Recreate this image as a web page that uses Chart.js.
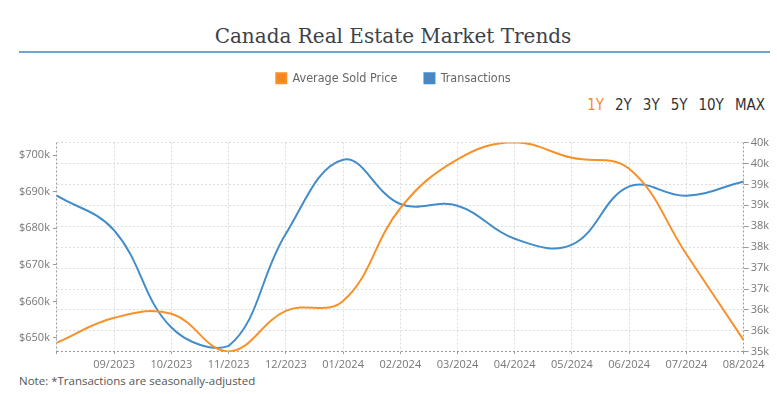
<!DOCTYPE html>
<html>
<head>
<meta charset="utf-8">
<script src="https://cdn.jsdelivr.net/npm/chart.js@4.4.0/dist/chart.umd.min.js"></script>
<style>
  html, body { margin: 0; padding: 0; background: #fff; }
  body { width: 777px; height: 394px; position: relative; overflow: hidden; font-family: 'Open Sans', sans-serif; }
  #title { position: absolute; top: 24px; left: 0; width: 786px; text-align: center; font-family: 'DejaVu Serif', serif; font-size: 20px; color: #3d4247; }
  #rule { position: absolute; top: 51px; left: 19px; width: 751px; height: 2px; background: #6fa3d3; }
  #ranges { position: absolute; top: 96px; right: 12px; font-family: 'DejaVu Sans Condensed', Roboto, sans-serif; font-size: 15px; color: #333; }
  #ranges span { margin-left: 11px; }
  #ranges .on { color: #f28c28; }
  #note { position: absolute; top: 373px; left: 19px; font-size: 11.5px; color: #555; }
  #wrap { position: absolute; top: 0; left: 0; width: 777px; height: 394px; }
</style>
</head>
<body>
<div id="title">Canada Real Estate Market Trends</div>
<div id="rule"></div>
<div id="ranges"><span class="on">1Y</span><span>2Y</span><span>3Y</span><span>5Y</span><span>10Y</span><span>MAX</span></div>
<div id="note">Note: *Transactions are seasonally-adjusted</div>
<div id="wrap"><canvas id="marketChart"></canvas></div>
<script>
const months = ['08/2023', '09/2023', '10/2023', '11/2023', '12/2023', '01/2024', '02/2024',
  '03/2024', '04/2024', '05/2024', '06/2024', '07/2024', '08/2024'];
const avgSoldPrice = [648700, 655500, 656600, 646300, 657400, 660100, 685500,
  698900, 703600, 699300, 696300, 672900, 649400];
const transactions = [38730, 37900, 35580, 35140, 37820, 39590, 38530,
  38490, 37700, 37560, 38950, 38730, 39070];

const axisGray = '#999';
const gridGray = '#dcdcdc';
const tickFont = { family: "'Open Sans', sans-serif", size: 11 };

// legend gets extra room below it so the plot starts lower
const legendSpacer = {
  id: 'legendSpacer',
  beforeInit(chart) {
    const origFit = chart.legend.fit;
    chart.legend.fit = function fit() {
      origFit.bind(chart.legend)();
      this.height += 48;
    };
  }
};

new Chart(document.getElementById('marketChart'), {
  type: 'line',
  data: {
    labels: months,
    datasets: [
      {
        label: 'Average Sold Price',
        data: avgSoldPrice,
        borderColor: '#f7912a',
        backgroundColor: '#f5861f',
        yAxisID: 'y',
        tension: 0.4,
        borderWidth: 2,
        pointRadius: 0
      },
      {
        label: 'Transactions',
        data: transactions,
        borderColor: '#438ccb',
        backgroundColor: '#4a86c0',
        yAxisID: 'y1',
        tension: 0.4,
        borderWidth: 2,
        pointRadius: 0
      }
    ]
  },
  options: {
    responsive: true,
    maintainAspectRatio: false,
    animation: false,
    layout: { padding: { top: 45, left: 16, right: 6, bottom: 21 } },
    plugins: {
      tooltip: { enabled: false },
      legend: {
        labels: {
          color: '#666',
          boxWidth: 10,
          boxHeight: 10,
          padding: 27,
          font: { family: "'DejaVu Sans Condensed', Roboto, sans-serif", size: 12.5 }
        }
      }
    },
    scales: {
      x: {
        border: { display: false, dash: [2, 2] },
        grid: {
          color: ctx => (ctx.index === 0 || ctx.index === months.length - 1) ? axisGray : gridGray,
          tickColor: axisGray,
          tickLength: 4,
          tickBorderDash: [2, 2]
        },
        ticks: {
          color: '#777',
          font: tickFont,
          maxRotation: 0,
          autoSkip: false,
          padding: 2,
          callback: function(value, index) {
            return index === 0 ? '' : months[index];
          }
        }
      },
      y: {
        type: 'linear',
        position: 'left',
        min: 646200,
        max: 703500,
        border: { display: false },
        grid: { drawOnChartArea: false, tickColor: axisGray, tickLength: 4 },
        ticks: {
          maxTicksLimit: 8,
          includeBounds: false,
          color: '#777',
          font: tickFont,
          padding: 3,
          callback: value => '$' + (value / 1000).toFixed(0) + 'k'
        }
      },
      y1: {
        type: 'linear',
        position: 'right',
        min: 35000,
        max: 40000,
        border: { display: false, dash: [2, 2] },
        grid: {
          color: ctx => ctx.index === 0 ? axisGray : gridGray,
          tickColor: axisGray,
          tickLength: 5,
          tickBorderDash: []
        },
        ticks: {
          stepSize: 500,
          color: '#777',
          font: tickFont,
          padding: 2,
          callback: value => (value / 1000).toFixed(0) + 'k'
        }
      }
    }
  },
  plugins: [legendSpacer]
});
</script>
</body>
</html>
